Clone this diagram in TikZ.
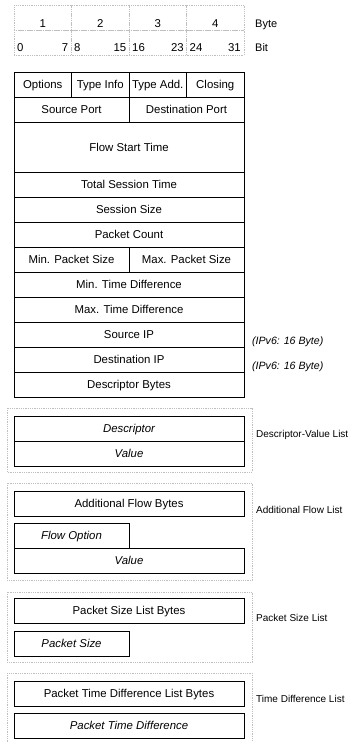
\documentclass[tikz,border=0pt]{standalone}
\usepackage{fontspec}
\setmainfont{Liberation Sans}
\usepackage{tikz}

\tikzset{
  field/.style={draw,line width=0.8pt,anchor=north west,minimum height=25pt,
    inner sep=0pt,outer sep=0pt,text height=8.2pt,text depth=0pt},
  byte/.style={field,minimum width=57.5pt},
  half/.style={field,minimum width=115pt},
  word/.style={field,minimum width=230pt},
  ital/.style={font=\fontsize{11.4}{13.7}\selectfont\itshape},
  ruler/.style={draw=gray!50,dash pattern=on 1pt off 0.8pt,line width=0.5pt,
    anchor=north west,minimum width=57.5pt,minimum height=25pt,inner sep=0pt,outer sep=0pt},
  listframe/.style={draw=gray!50,dash pattern=on 1pt off 0.8pt,line width=0.5pt},
  num/.style={inner sep=0pt,text height=8.2pt,text depth=0pt},
  note/.style={num,anchor=west,font=\fontsize{10}{12}\selectfont},
  unit/.style={num,anchor=west,font=\fontsize{11}{13}\selectfont},
  ipnote/.style={num,anchor=west,font=\fontsize{10.6}{12.7}\selectfont\itshape},
}

\begin{document}
\begin{tikzpicture}[x=1pt,y=-1pt,font=\fontsize{11.4}{13.7}\selectfont]
  \useasboundingbox (0,0) rectangle (352,742);

  % byte and bit ruler
  \node[ruler] (byteA) at (14,5) {};
  \node[ruler] (byteB) at (71.5,5) {};
  \node[ruler] (byteC) at (129,5) {};
  \node[ruler] (byteD) at (186.5,5) {};
  \node[ruler] (bitA) at (14,30) {};
  \node[ruler] (bitB) at (71.5,30) {};
  \node[ruler] (bitC) at (129,30) {};
  \node[ruler] (bitD) at (186.5,30) {};
  \node[num] (no1) at (42.75,23) {1};
  \node[num] (no2) at (100.25,23) {2};
  \node[num] (no3) at (157.75,23) {3};
  \node[num] (no4) at (215.25,23) {4};
  \node[num,anchor=west] (bit0) at (17,47) {0};
  \node[num,anchor=east] (bit7) at (68.5,47) {7};
  \node[num,anchor=west] (bit8) at (74,47) {8};
  \node[num,anchor=east] (bit15) at (126.5,47) {15};
  \node[num,anchor=west] (bit16) at (132,47) {16};
  \node[num,anchor=east] (bit23) at (184,47) {23};
  \node[num,anchor=west] (bit24) at (189.5,47) {24};
  \node[num,anchor=east] (bit31) at (241,47) {31};
  \node[unit] (bytelbl) at (255,23) {Byte};
  \node[unit] (bitlbl) at (255,47) {Bit};

  % flow header
  \node[byte] (opt) at (14,72) {Options};
  \node[byte] (tinfo) at (71.5,72) {Type Info};
  \node[byte] (tadd) at (129,72) {Type Add.};
  \node[byte] (closing) at (186.5,72) {Closing};
  \node[half] (sport) at (14,97) {Source Port};
  \node[half] (dport) at (129,97) {Destination Port};
  \node[word,minimum height=50pt] (start) at (14,122) {Flow Start Time};
  \node[word] (total) at (14,172) {Total Session Time};
  \node[word] (ssize) at (14,197) {Session Size};
  \node[word] (pcount) at (14,222) {Packet Count};
  \node[half] (minps) at (14,247) {Min. Packet Size};
  \node[half] (maxps) at (129,247) {Max. Packet Size};
  \node[word] (mintd) at (14,272) {Min. Time Difference};
  \node[word] (maxtd) at (14,297) {Max. Time Difference};
  \node[word] (srcip) at (14,322) {Source IP};
  \node[word] (dstip) at (14,347) {Destination IP};
  \node[word] (descb) at (14,372) {Descriptor Bytes};
  \node[ipnote] (srcv6) at (252,340) {(IPv6: 16 Byte)};
  \node[ipnote] (dstv6) at (252,365) {(IPv6: 16 Byte)};

  % descriptor-value list
  \draw[listframe] (7,408) rectangle (252,472);
  \node[word,ital] (desc) at (14,416) {Descriptor};
  \node[word,ital] (dval) at (14,441) {Value};
  \node[note] (dvlist) at (256,433) {Descriptor-Value List};

  % additional flow list
  \draw[listframe] (7,483) rectangle (252,580);
  \node[word] (afbytes) at (14,491) {Additional Flow Bytes};
  \node[half,ital] (fopt) at (14,523) {Flow Option};
  \node[word,ital] (fval) at (14,548) {Value};
  \node[note] (aflist) at (256,509) {Additional Flow List};

  % packet size list
  \draw[listframe] (7,592) rectangle (252,662);
  \node[word] (psbytes) at (14,598) {Packet Size List Bytes};
  \node[half,ital] (psize) at (14,631) {Packet Size};
  \node[note] (pslist) at (256,617) {Packet Size List};

  % time difference list
  \draw[listframe] (7,673) rectangle (252,750);
  \node[word] (tdbytes) at (14,681) {Packet Time Difference List Bytes};
  \node[word,ital] (tdiff) at (14,713) {Packet Time Difference};
  \node[note] (tdlist) at (256,698) {Time Difference List};
\end{tikzpicture}
\end{document}
